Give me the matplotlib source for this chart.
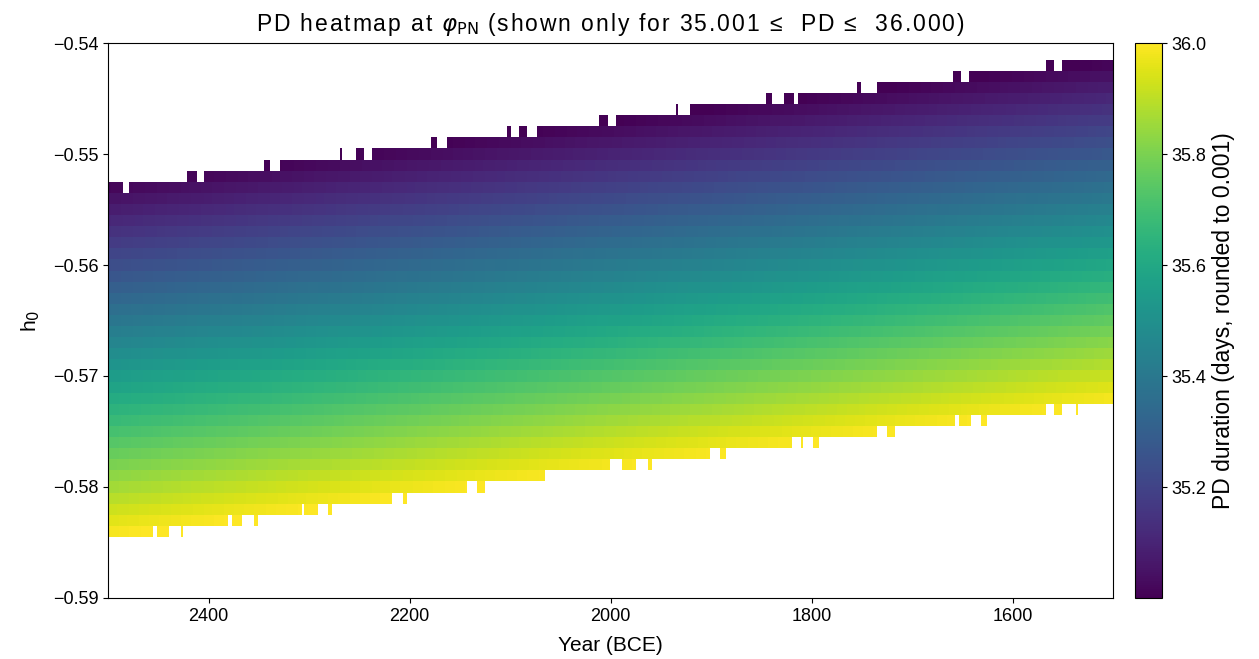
import matplotlib
matplotlib.use('Agg')
import matplotlib.pyplot as plt
import numpy as np

plt.rcParams['font.family'] = ['Liberation Sans', 'DejaVu Sans']

# grid of the scan
years = np.arange(2500, 1499, -2)
h0_values = np.round(np.arange(-0.590, -0.5395, 0.001), 3)

# h0 where PD = 35.0 and PD = 36.0 at 2500 BCE and 1500 BCE
pd35_h0 = [-0.5525, -0.5415]
pd36_h0 = [-0.5845, -0.5725]
pd_min, pd_max = 35.001, 36.000

# top edge of the shown band: segment start year -> highest shown h0
top_start = [2500, 2485, 2479, 2420, 2411, 2404, 2345, 2339, 2329, 2268,
             2266, 2253, 2244, 2237, 2178, 2172, 2163, 2102, 2099, 2090,
             2083, 2073, 2011, 2003, 1995, 1935, 1932, 1921, 1844, 1838,
             1826, 1816, 1812, 1755, 1750, 1735, 1659, 1651, 1643, 1567,
             1558, 1550]
top_h0 = [-0.553, -0.554, -0.553, -0.552, -0.553, -0.552, -0.551, -0.552,
          -0.551, -0.550, -0.551, -0.550, -0.551, -0.550, -0.549, -0.550,
          -0.549, -0.548, -0.549, -0.548, -0.549, -0.548, -0.547, -0.548,
          -0.547, -0.546, -0.547, -0.546, -0.545, -0.546, -0.545, -0.546,
          -0.545, -0.544, -0.545, -0.544, -0.543, -0.544, -0.543, -0.542,
          -0.543, -0.542]

# bottom edge of the shown band: segment start year -> lowest shown h0
bot_start = [2500, 2455, 2451, 2439, 2427, 2424,
             2381, 2377, 2366, 2354, 2351,
             2306, 2304, 2291, 2281, 2276,
             2216, 2207, 2202,
             2143, 2133, 2125,
             2065,
             2000, 1989, 1975, 1963, 1959,
             1900, 1891, 1884,
             1819, 1811, 1809, 1798, 1793,
             1734, 1725, 1717,
             1657, 1652, 1641, 1630, 1625,
             1566, 1559, 1550, 1536, 1535]
bot_h0 = [-0.584, -0.583, -0.584, -0.583, -0.584, -0.583,
          -0.582, -0.583, -0.582, -0.583, -0.582,
          -0.581, -0.582, -0.581, -0.582, -0.581,
          -0.580, -0.581, -0.580,
          -0.579, -0.580, -0.579,
          -0.578,
          -0.577, -0.578, -0.577, -0.578, -0.577,
          -0.576, -0.577, -0.576,
          -0.575, -0.576, -0.575, -0.576, -0.575,
          -0.574, -0.575, -0.574,
          -0.573, -0.574, -0.573, -0.574, -0.573,
          -0.572, -0.573, -0.572, -0.573, -0.572]

title_text = 'PD heatmap at $\\varphi_{\\rm PN}$ (shown only for 35.001 ≤  PD ≤  36.000)'


def edge_at(year, starts, values):
    idx = 0
    for i, s in enumerate(starts):
        if year <= s:
            idx = i
    return values[idx]


def spaced(text):
    # the reference title is set with loose letter spacing
    out = ''
    in_math = False
    for ch in text:
        if ch == '$':
            in_math = not in_math
            out += ch
            continue
        out += ch
        if not in_math:
            out += '\u200a'
    return out


def build_grid():
    frac = (2500 - years) / 1000.0
    top_c = pd35_h0[0] + frac * (pd35_h0[1] - pd35_h0[0])
    bot_c = pd36_h0[0] + frac * (pd36_h0[1] - pd36_h0[0])
    pd = 35.0 + (top_c[None, :] - h0_values[:, None]) / (top_c - bot_c)[None, :]
    pd = np.clip(np.round(pd, 3), pd_min, pd_max)

    shown = np.zeros(pd.shape, dtype=bool)
    for j, y in enumerate(years):
        hi = edge_at(y, top_start, top_h0)
        lo = edge_at(y, bot_start, bot_h0)
        shown[:, j] = (h0_values <= hi + 1e-9) & (h0_values >= lo - 1e-9)
    return np.ma.masked_where(~shown, pd)


grid = build_grid()

fig = plt.figure(figsize=(12.59, 6.59), dpi=100)
ax = fig.add_axes([0.0858, 0.0926, 0.7983, 0.8421])
cax = fig.add_axes([0.9015, 0.0926, 0.0215, 0.8421])

mesh = ax.pcolormesh(years, h0_values, grid, shading='nearest',
                     cmap='viridis', vmin=pd_min, vmax=pd_max)
ax.set_xlim(2500, 1500)
ax.set_ylim(-0.59, -0.54)
ax.set_yticks([-0.59, -0.58, -0.57, -0.56, -0.55, -0.54])
ax.set_xticks([2400, 2200, 2000, 1800, 1600])
ax.tick_params(labelsize=13)
ax.set_xlabel('Year (BCE)', fontsize=15, labelpad=8)
ax.set_ylabel('h$_0$', fontsize=15, labelpad=8)
ax.set_title(spaced(title_text), fontsize=16.5, pad=9)

cb = fig.colorbar(mesh, cax=cax)
cb.set_ticks([35.2, 35.4, 35.6, 35.8, 36.0])
cb.ax.tick_params(labelsize=13)
cb.set_label('PD duration (days, rounded to 0.001)', fontsize=16.5)

fig.savefig('out.png', dpi=100)
